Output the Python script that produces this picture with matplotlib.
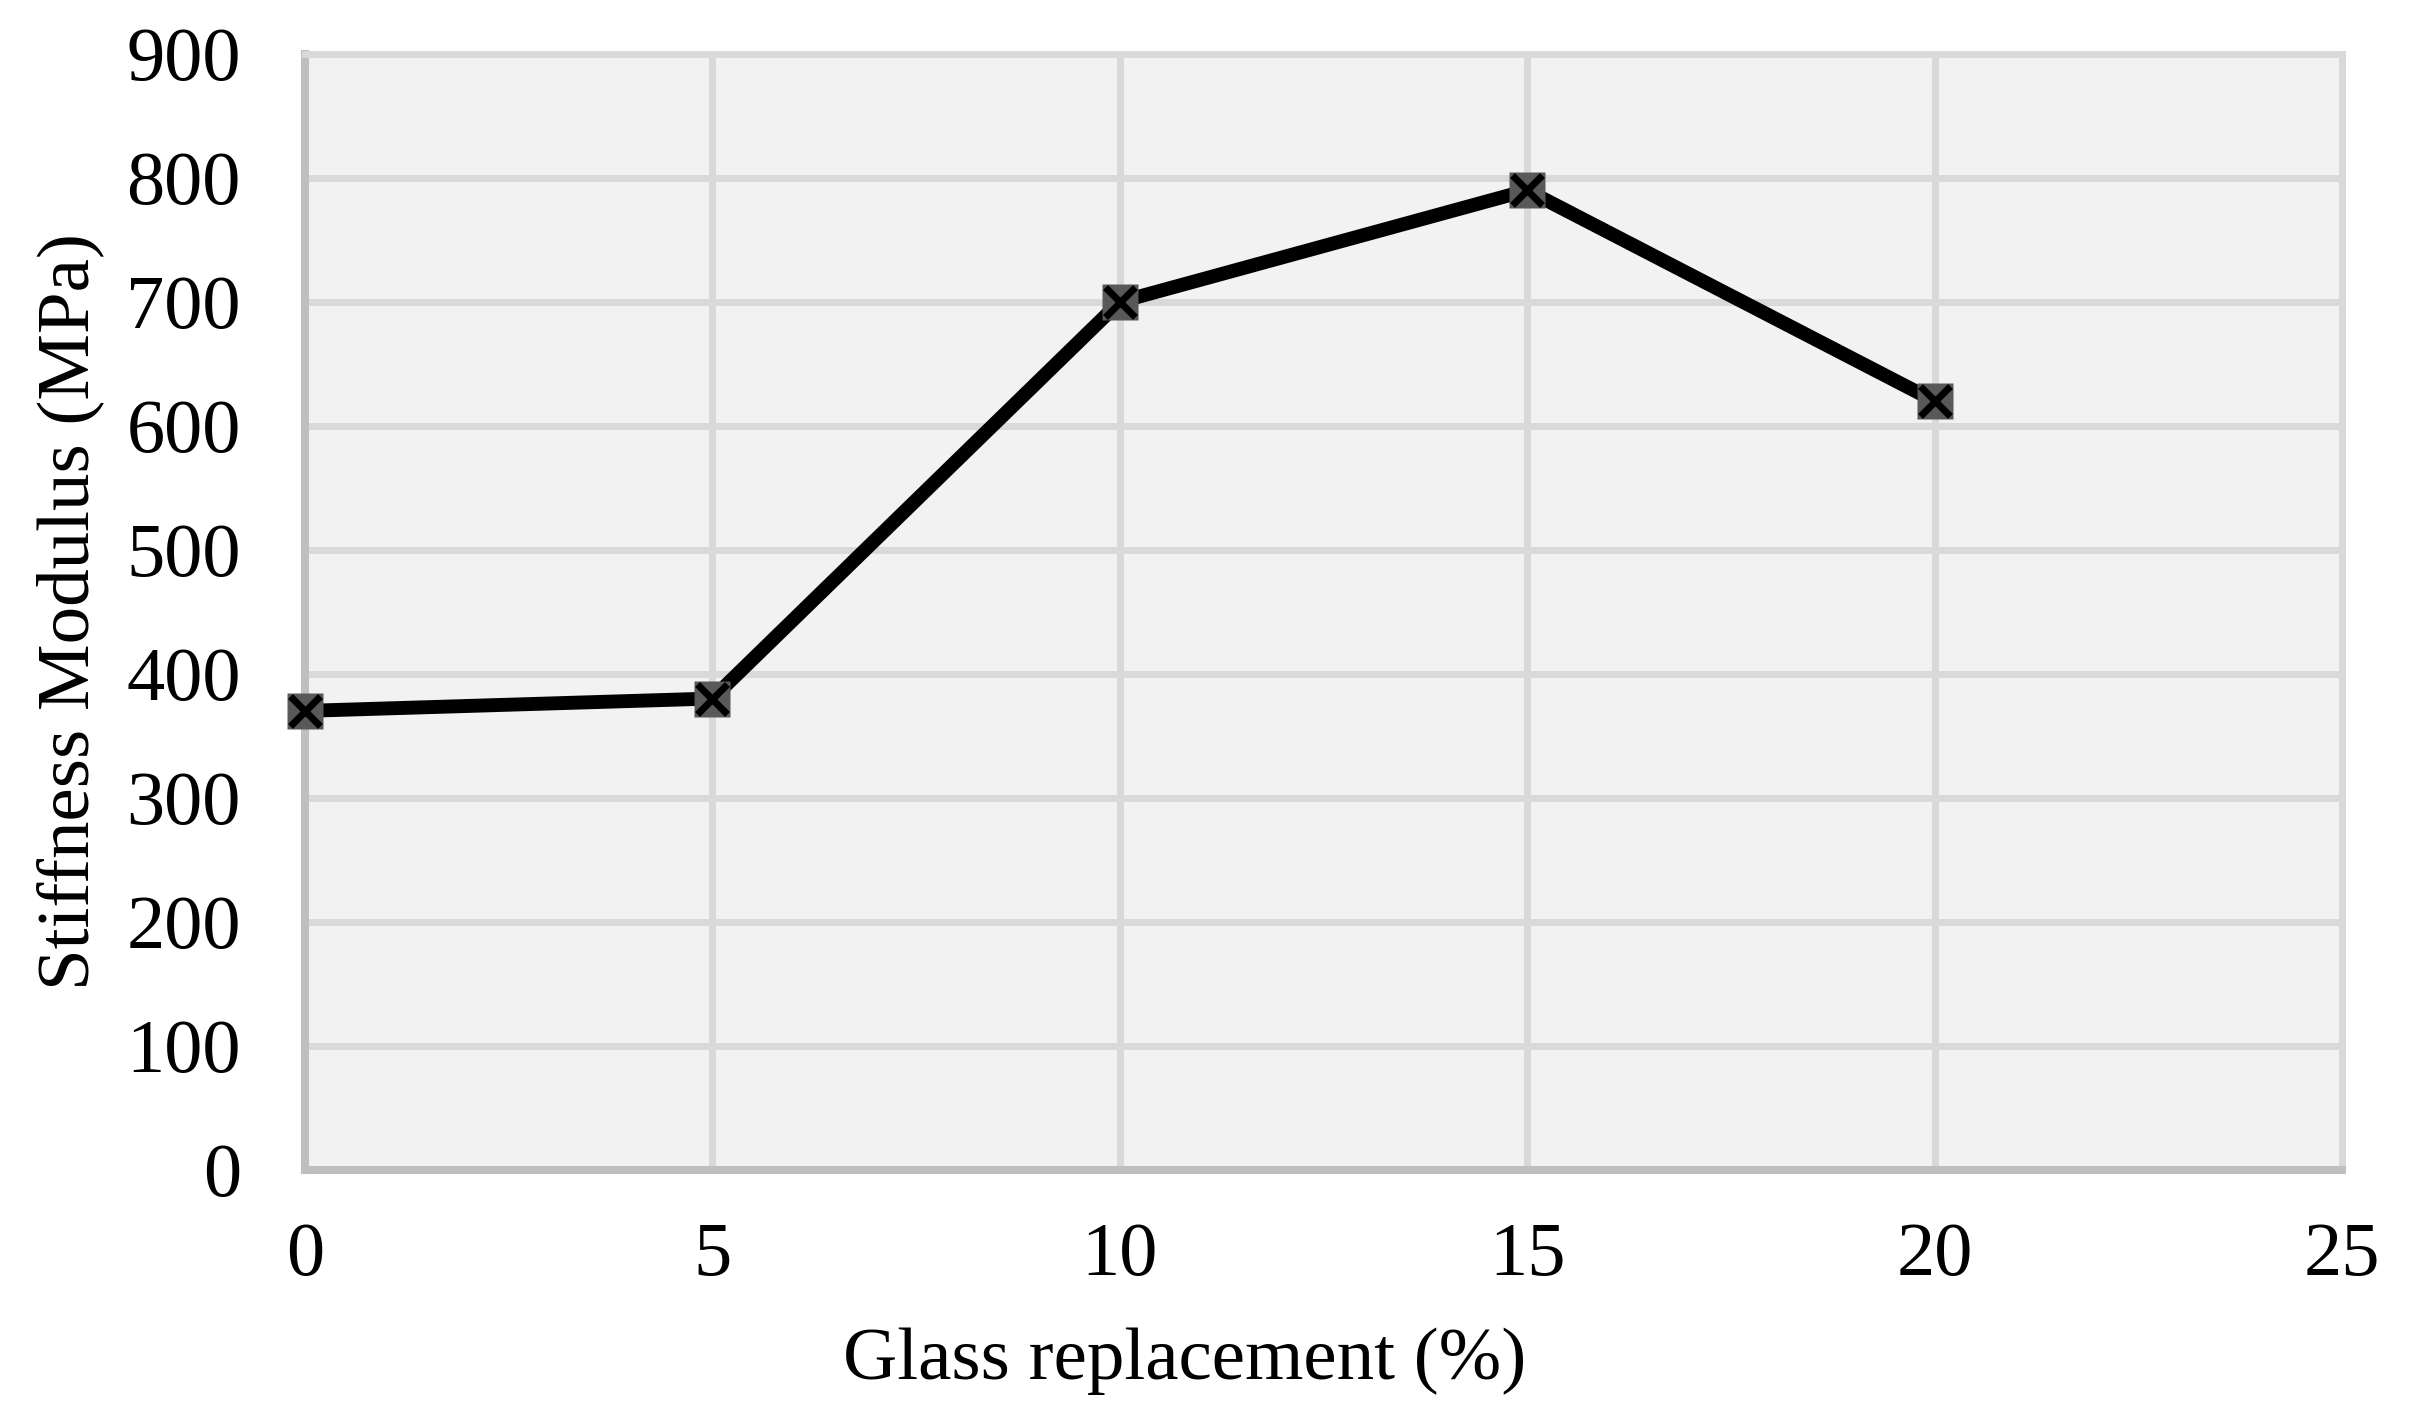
import matplotlib
matplotlib.use("Agg")
import matplotlib.pyplot as plt

# data
glass_pct = [0, 5, 10, 15, 20]
stiffness = [370, 380, 700, 790, 620]
x_ticks = [0, 5, 10, 15, 20, 25]
y_ticks = [0, 100, 200, 300, 400, 500, 600, 700, 800, 900]

plt.rcParams['font.family'] = ['Liberation Serif', 'DejaVu Serif']

fig = plt.figure(figsize=(24.14, 14.28), dpi=100)
ax = fig.add_axes([0.1263, 0.181, 0.8439, 0.7812])
ax.set_facecolor('#F2F2F2')

ax.plot(glass_pct, stiffness, color='black', linewidth=10, zorder=3,
        solid_joinstyle='round')
ax.plot(glass_pct, stiffness, linestyle='none', marker='s', markersize=26,
        markerfacecolor='#595959', markeredgecolor='none', zorder=4, clip_on=False)
ax.plot(glass_pct, stiffness, linestyle='none', marker='x', markersize=22,
        markeredgewidth=5, color='black', zorder=5, clip_on=False)

ax.set_xlim(0, 25)
ax.set_ylim(0, 900)
ax.set_xticks(x_ticks)
ax.set_yticks(y_ticks)
ax.grid(True, color='#D9D9D9', linewidth=5)
ax.set_axisbelow(True)

for side in ['top', 'right']:
    ax.spines[side].set_color('#D9D9D9')
    ax.spines[side].set_linewidth(5)
for side in ['left', 'bottom']:
    ax.spines[side].set_color('#BFBFBF')
    ax.spines[side].set_linewidth(5.8)

ax.tick_params(axis='both', length=0, labelsize=55)
ax.tick_params(axis='y', pad=46)
ax.tick_params(axis='x', pad=38)

ax.set_xlabel('Glass replacement (%)', fontsize=54, labelpad=26, x=0.4316)
ax.set_ylabel('Stiffness Modulus (MPa)', fontsize=54, labelpad=16)

fig.savefig('out.png', dpi=100)
